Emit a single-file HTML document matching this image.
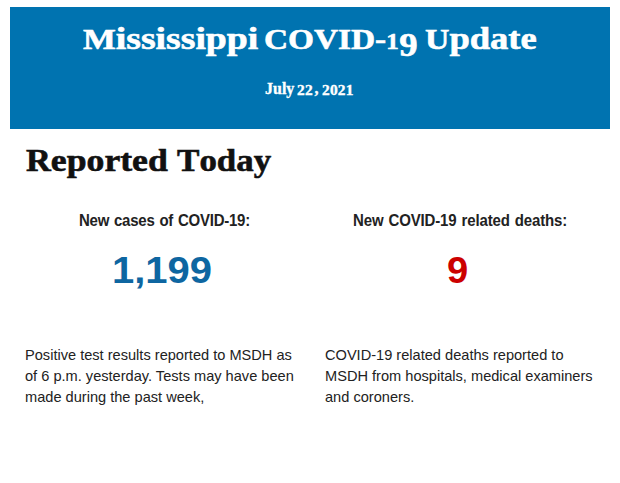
<!DOCTYPE html>
<html><head><meta charset="utf-8">
<style>
html,body{margin:0;padding:0;background:#fff;width:620px;height:483px;overflow:hidden;}
.abs{position:absolute;white-space:nowrap;transform-origin:0 0;line-height:1;}
#banner{position:absolute;left:10px;top:7px;width:600px;height:122px;background:#0073b0;}
.serif{font-family:"Liberation Serif",serif;font-weight:bold;-webkit-text-stroke:0.6px currentColor;}
.sans{font-family:"Liberation Sans",sans-serif;}
.title{color:#fff;font-size:30px;top:22px;transform:scaleX(1.12);}
.date{color:#fff;-webkit-text-stroke:0.35px #fff;}
.os{font-size:14px;top:83.5px;letter-spacing:0.2px;transform:scaleX(1.1);}
.rep{color:#111;font-size:31px;top:144px;transform:scaleX(1.1);}
.lt{font-size:32.5px;}
.lr{font-size:32.2px;}
.d1{font-size:22.5px;letter-spacing:0.5px;}
.d9{font-size:33px;position:relative;top:6.5px;letter-spacing:1px;}
.lab{font-weight:bold;font-size:15px;color:#222;top:212.45px;transform:scaleY(1.04);word-spacing:1px;}
.num{font-weight:bold;font-size:36px;top:253px;}
.para{font-size:14.6px;color:#222;line-height:21px;top:344.5px;}
</style></head>
<body>
<div id="banner"></div>
<div class="abs serif title" id="t1" style="left:82.6px;transform:scaleX(1.159)">M<span class="lt">ississippi</span></div>
<div class="abs serif title" id="t2" style="left:263.7px;transform:scaleX(1.111)">COVID-<span class="d1">1</span><span class="d9">9</span></div>
<div class="abs serif title" id="t3" style="left:424.5px;transform:scaleX(1.125)">U<span class="lt">pdate</span></div>
<div class="abs serif date" style="left:265px;top:81px;font-size:16px">July</div>
<div class="abs serif date os" style="left:297px">22</div>
<div class="abs serif date" style="left:314.5px;top:81px;font-size:16px">,</div>
<div class="abs serif date os" style="left:322px">2021</div>
<div class="abs serif rep" id="r1" style="left:25.5px;transform:scaleX(1.109)">R<span class="lr">eported</span></div>
<div class="abs serif rep" id="r2" style="left:177px;transform:scaleX(1.083)">T<span class="lr">oday</span></div>
<div class="abs sans lab" style="left:79px;letter-spacing:-0.25px">New cases of COVID-19:</div>
<div class="abs sans lab" style="left:353px;letter-spacing:-0.14px">New COVID-19 related deaths:</div>
<div class="abs sans num" style="left:112px;color:#0e66a1;transform:scaleX(1.11)">1,199</div>
<div class="abs sans num" style="left:446.5px;color:#cc0000;transform:scaleX(1.06)">9</div>
<div class="abs sans para" style="left:25px">Positive test results reported to MSDH as<br>of 6 p.m. yesterday. Tests may have been<br>made during the past week,</div>
<div class="abs sans para" style="left:325px">COVID-19 related deaths reported to<br>MSDH from hospitals, medical examiners<br>and coroners.</div>
</body></html>
